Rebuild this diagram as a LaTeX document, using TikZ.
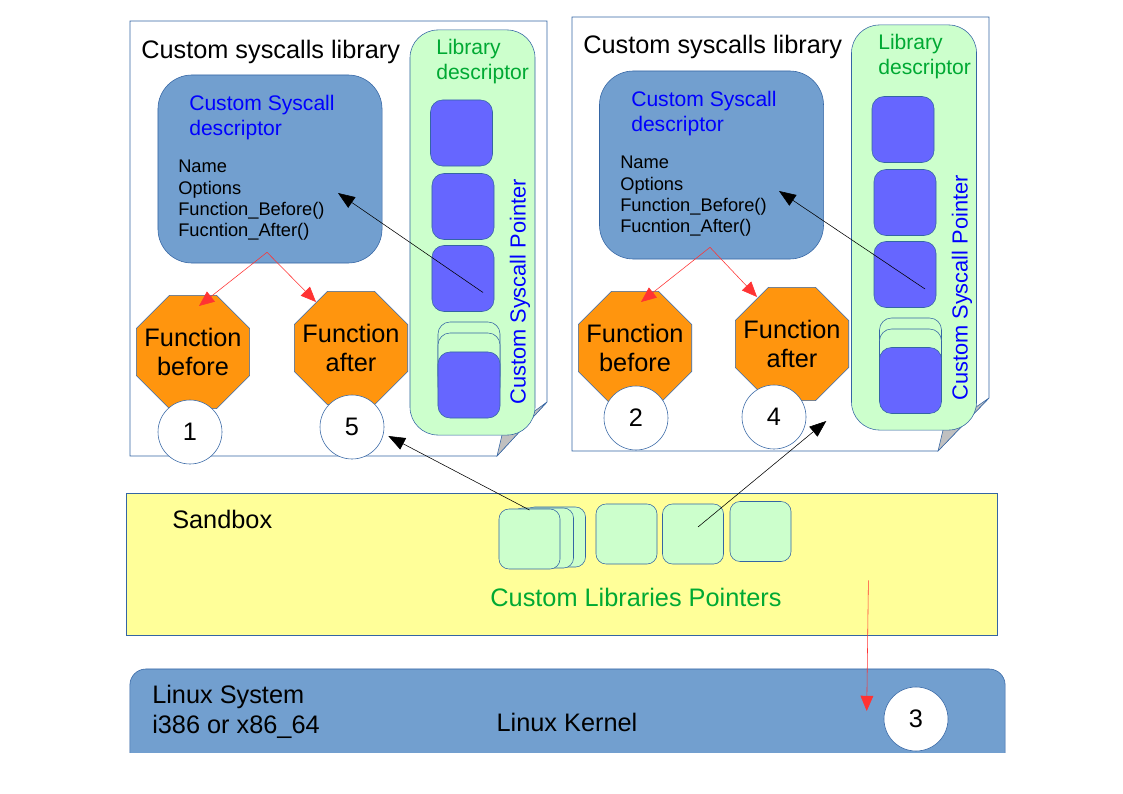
\documentclass[tikz,border=0pt]{standalone}
\usepackage{fontspec}
\setmainfont{Liberation Sans}
\usepackage{tikz}
\usetikzlibrary{shapes.geometric}
\usetikzlibrary{arrows.meta}
\usetikzlibrary{calc}
\definecolor{rand}{HTML}{3465A4}
\definecolor{hellblau}{HTML}{729FCF}
\definecolor{lila}{HTML}{6666FF}
\definecolor{hellgruen}{HTML}{CCFFCC}
\definecolor{gruen}{HTML}{00A933}
\definecolor{orangeLO}{HTML}{FF950E}
\definecolor{gelb}{HTML}{FFFF99}
\definecolor{falz}{HTML}{C0C0C0}
\definecolor{rot}{HTML}{FF3333}
\newcommand{\Gross}{\fontsize{18}{21}\selectfont}
\newcommand{\Mittel}{\fontsize{15}{17.7}\selectfont}
\newcommand{\Klein}{\fontsize{13}{15.1}\selectfont}
\tikzset{
  Blatt/.style={draw=rand, fill=white},
  Falz/.style={draw=rand, fill=falz},
  Deskriptor/.style={draw=rand, fill=hellblau, rounded corners=0.85cm,
    minimum width=5.6cm, minimum height=4.7cm},
  Bibliothek/.style={draw=rand, fill=hellgruen, rounded corners=0.7cm,
    minimum width=3.125cm, minimum height=10.125cm},
  Zeiger/.style={draw=rand, fill=lila, rounded corners=0.3cm,
    minimum width=1.55cm, minimum height=1.65cm},
  LeerZeiger/.style={Zeiger, fill=hellgruen},
  BibZeiger/.style={draw=rand, fill=hellgruen, rounded corners=0.25cm,
    minimum width=1.525cm, minimum height=1.5cm},
  Funktion/.style={regular polygon, regular polygon sides=8, draw=rand,
    fill=orangeLO, minimum size=2.69cm, inner sep=-6pt, align=center, font=\Gross},
  Nummer/.style={circle, draw=rand, fill=white, minimum size=1.6cm,
    inner sep=0pt, font=\Gross},
  Text/.style={inner sep=0pt, align=left},
  Pfeil/.style={-{Triangle[length=4.2mm,width=3.2mm]}, black},
  RPfeil/.style={-{Triangle[length=3.8mm,width=3.2mm]}, rot}
}
\begin{document}
\begin{tikzpicture}[x=0.025cm, y=-0.025cm]
\useasboundingbox (0,0) rectangle (1123,794);

%Bibliothek links
\draw[Blatt] (130,21) -- (547,21) -- (547,402) -- (497,456) -- (130,456) -- cycle;
\draw[Falz] (497,456) -- (502,435) -- (547,402) -- cycle;
\node[Text, anchor=north west, font=\Gross] (titelL) at (141,40) {Custom syscalls library};
\node[Bibliothek] (bibL) at (472.5,232.5) {};
\node[Text, anchor=north west, text=gruen, font=\Mittel] (bibtxtL) at (436,39) {Library\\descriptor};
\node[Zeiger] (ptrL1) at (461.5,133) {};
\node[Zeiger] (ptrL2) at (463,206.5) {};
\node[Zeiger] (ptrL3) at (463,278.5) {};
\node[LeerZeiger] (ptrL4c) at (469,355) {};
\node[LeerZeiger] (ptrL4b) at (469,366) {};
\node[Zeiger] (ptrL4) at (469,385) {};
\node[rotate=90, inner sep=0pt, text=blue, font=\fontsize{15.5}{18}\selectfont] (zeigertxtL) at (520,292) {Custom Syscall Pointer};
\node[Deskriptor] (descL) at (270,169) {};
\node[Text, anchor=north west, text=blue, font=\Mittel] (desctitelL) at (189,95) {Custom Syscall\\descriptor};
\node[Text, anchor=north west, font=\Klein] (desclisteL) at (178,160) {Name\\Options\\Function\_Before()\\Fucntion\_After()};
\node[Funktion] (vorL) at (193,352) {Function\\before};
\node[Funktion] (nachL) at (351,348) {Function\\after};
\node[Nummer] (n1) at (190,432) {1};
\node[Nummer] (n5) at (352,427) {5};

%Bibliothek rechts
\draw[Blatt] (572,17) -- (989,17) -- (989,398) -- (938,451) -- (572,451) -- cycle;
\draw[Falz] (938,451) -- (943,430) -- (989,398) -- cycle;
\node[Text, anchor=north west, font=\Gross] (titelR) at (583,35) {Custom syscalls library};
\node[Bibliothek] (bibR) at (914,227.5) {};
\node[Text, anchor=north west, text=gruen, font=\Mittel] (bibtxtR) at (878,34) {Library\\descriptor};
\node[Zeiger] (ptrR1) at (903,129.5) {};
\node[Zeiger] (ptrR2) at (905,202.5) {};
\node[Zeiger] (ptrR3) at (905,274.5) {};
\node[LeerZeiger] (ptrR4c) at (910.5,351) {};
\node[LeerZeiger] (ptrR4b) at (910.5,362) {};
\node[Zeiger] (ptrR4) at (910.5,380.5) {};
\node[rotate=90, inner sep=0pt, text=blue, font=\fontsize{15.5}{18}\selectfont] (zeigertxtR) at (962,288) {Custom Syscall Pointer};
\node[Deskriptor] (descR) at (711.5,165) {};
\node[Text, anchor=north west, text=blue, font=\Mittel] (desctitelR) at (631,91) {Custom Syscall\\descriptor};
\node[Text, anchor=north west, font=\Klein] (desclisteR) at (620,156) {Name\\Options\\Function\_Before()\\Fucntion\_After()};
\node[Funktion] (vorR) at (635,348) {Function\\before};
\node[Funktion] (nachR) at (792,344) {Function\\after};
\node[Nummer] (n2) at (636,418) {2};
\node[Nummer] (n4) at (774,417) {4};

%Sandbox
\node[draw=rand, fill=gelb, minimum width=21.775cm, minimum height=3.55cm] (sandbox) at (561.5,564) {};
\node[Text, anchor=west, font=\Gross] (sandboxtxt) at (172,519) {Sandbox};
\node[BibZeiger] (lp1c) at (555,537) {};
\node[BibZeiger] (lp1b) at (543,538) {};
\node[BibZeiger] (lp1) at (529.5,539) {};
\node[BibZeiger] (lp2) at (626.5,534) {};
\node[BibZeiger] (lp3) at (693,534) {};
\node[BibZeiger] (lp4) at (760.5,531.5) {};
\node[inner sep=0pt, text=gruen, font=\Gross] (lptxt) at (636,597) {Custom Libraries Pointers};

%Kernel
\begin{scope}
\clip (0,0) rectangle (1123,752);
\node[draw=rand, fill=hellblau, rounded corners=0.4cm, minimum width=21.875cm, minimum height=3.025cm] (kernel) at (567.5,729.5) {};
\end{scope}
\node[Text, anchor=west, font=\fontsize{18}{21}\selectfont] (systemtxt) at (152,712) {Linux System\\i386 or x86\_64};
\node[inner sep=0pt, font=\Gross] (kerneltxt) at (567,722) {Linux Kernel};
\node[Nummer] (n3) at (916,719) {3};

%Pfeile
\coordinate (gabelL) at ($(descL.south)+(-3,-11)$);
\coordinate (gabelR) at ($(descR.south)+(-1.5,-12)$);
\draw[RPfeil] (gabelL) -- ($(vorL.north)+(6,11)$);
\draw[RPfeil] (gabelL) -- ($(nachL.north)+(-35,11)$);
\draw[RPfeil] (gabelR) -- ($(vorR.north)+(6,11)$);
\draw[RPfeil] (gabelR) -- ($(nachR.north)+(-35,10)$);
\draw[Pfeil] ($(ptrL3.center)+(20,14)$) -- ($(descL.center)+(68,24)$);
\draw[Pfeil] ($(ptrR3.center)+(20,14.5)$) -- ($(descR.center)+(67.5,26)$);
\draw[Pfeil] ($(lp1.center)+(0,-29)$) -- ($(n5.east)+(4,9)$);
\draw[Pfeil] ($(lp3.center)+(5,-7)$) -- ($(n4.east)+(20,4)$);
\draw[RPfeil] ($(sandbox.south east)+(-129,-55)$) -- ($(n3.west)+(-17,-8)$);

\end{tikzpicture}
\end{document}
